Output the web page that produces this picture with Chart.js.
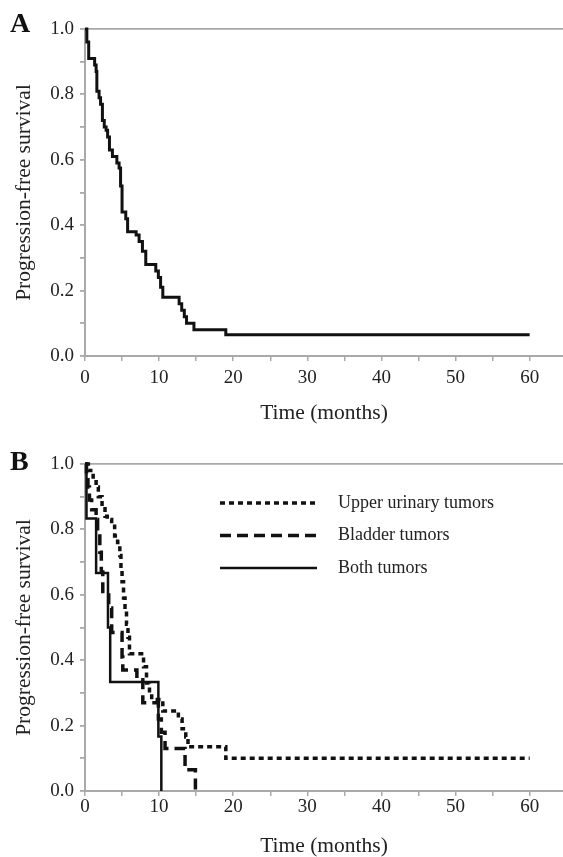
<!DOCTYPE html>
<html><head><meta charset="utf-8">
<script src="https://cdn.jsdelivr.net/npm/chart.js@4/dist/chart.umd.min.js"></script>
<style>
html,body{margin:0;padding:0;background:#fff;width:563px;height:857px;overflow:hidden}
.wrap{position:absolute;left:0;width:563px}
.lab{position:absolute;font-family:"Liberation Serif","Times New Roman",serif;font-weight:bold;font-size:28px;line-height:28px;color:#111}
</style></head><body>
<div class="wrap" style="top:0;height:430px"><canvas id="a" width="563" height="430"></canvas></div>
<div class="wrap" style="top:430px;height:427px"><canvas id="b" width="563" height="427"></canvas></div>
<div class="lab" style="left:10px;top:9px">A</div>
<div class="lab" style="left:10px;top:447px">B</div>
<script>
// ---- Data ----
const timeA = [0, 0.25, 0.5, 1.3, 1.5, 1.6, 1.9, 2.1, 2.35, 2.6, 2.85, 3.05, 3.3, 3.7, 4.3, 4.6, 4.8, 5.0, 5.5, 5.75, 6.9, 7.3, 7.75, 8.2, 9.55, 9.9, 10.2, 10.5, 12.7, 13.05, 13.4, 13.7, 14.7, 19.0, 60];
const survA = [1.0, 0.96, 0.91, 0.89, 0.87, 0.81, 0.79, 0.77, 0.72, 0.70, 0.69, 0.67, 0.63, 0.61, 0.59, 0.575, 0.52, 0.44, 0.42, 0.38, 0.37, 0.35, 0.32, 0.28, 0.26, 0.24, 0.21, 0.18, 0.16, 0.14, 0.12, 0.10, 0.08, 0.065, 0.065];

const timeUpper = [0, 0.45, 1.1, 1.5, 1.8, 2.3, 2.7, 3.0, 3.6, 4.0, 4.4, 4.7, 4.85, 5.0, 5.2, 5.4, 5.6, 5.8, 6.0, 7.9, 8.3, 8.7, 9.0, 10.5, 12.6, 13.1, 13.6, 13.9, 19.0, 60];
const survUpper = [1.0, 0.98, 0.96, 0.93, 0.90, 0.87, 0.84, 0.83, 0.81, 0.78, 0.76, 0.72, 0.68, 0.64, 0.59, 0.55, 0.51, 0.47, 0.42, 0.38, 0.33, 0.30, 0.28, 0.245, 0.22, 0.19, 0.165, 0.135, 0.10, 0.10];

const timeBladder = [0, 0.2, 0.4, 0.6, 0.9, 1.5, 1.7, 2.0, 2.2, 2.4, 3.2, 3.6, 5.0, 5.1, 7.0, 7.8, 9.9, 10.3, 10.8, 13.5, 14.9];
const survBladder = [1.0, 0.96, 0.93, 0.89, 0.86, 0.83, 0.79, 0.73, 0.67, 0.61, 0.56, 0.485, 0.41, 0.37, 0.34, 0.27, 0.22, 0.18, 0.13, 0.065, 0];

const timeBoth = [0, 0.2, 1.5, 3.1, 3.4, 9.9, 10.3];
const survBoth = [1.0, 0.833, 0.667, 0.5, 0.333, 0.167, 0];

const seriesLabels = ['Upper urinary tumors', 'Bladder tumors', 'Both tumors'];
const xTickStep = 5, xLabelStep = 10;
const yTickStep = 0.1;

// ---- Styling ----
const SERIF = '"Liberation Serif","Times New Roman",serif';
const GRAY = '#a9a9a9';
const INK = '#111';
const TXT = '#222';

function pts(t, s){ return t.map((v,i)=>({x:v, y:s[i]})); }

function makeOptions(cfg){
  return {
    responsive:false, animation:false,
    layout:{padding:{top:cfg.top, right:0, left:0, bottom:0}},
    plugins:{legend:{display:false}, tooltip:{enabled:false}, kmLegend: cfg.legend || false},
    scales:{
      x:{type:'linear', min:0, max:64.5,
        afterBuildTicks: ax => { ax.ticks = ax.ticks.filter(t => Math.abs(t.value % xTickStep) < 1e-9); },
        afterFit: s => { s.height = cfg.xh; },
        border:{display:true, color:GRAY, width:2},
        grid:{display:true, drawOnChartArea:false, drawTicks:true, tickLength:5, color:GRAY, lineWidth:1.5},
        ticks:{stepSize:xTickStep, includeBounds:false, autoSkip:false, maxRotation:0, padding:cfg.xpad, color:TXT,
          font:{family:SERIF, size:19},
          callback: v => (Math.abs(v % xLabelStep) < 1e-9 ? String(v) : '')},
        title:{display:true, text:'Time (months)', color:TXT, font:{family:SERIF, size:21.5, lineHeight:1}, padding:{top:0, bottom:cfg.tpad}}
      },
      y:{type:'linear', min:0, max:1,
        afterFit: s => { s.width = 85; },
        border:{display:true, color:GRAY, width:2},
        grid:{display:true, drawOnChartArea:true, drawTicks:true, tickLength:5,
          color: c => (c.tick && Math.abs(c.tick.value - 1) < 1e-9 ? GRAY : 'rgba(0,0,0,0)'),
          tickColor: GRAY, lineWidth:1.8},
        ticks:{stepSize:yTickStep, autoSkip:false, padding:6, color:TXT, font:{family:SERIF, size:19},
          callback: v => (Math.round(v*10) % 2 === 0 ? Number(v).toFixed(1) : '')},
        title:{display:true, text:'Progression-free survival', color:TXT, font:{family:SERIF, size:21.5, lineHeight:1}, padding:{top:14, bottom:0}}
      }
    }
  };
}

const kmLegend = {
  id:'kmLegend',
  afterDatasetsDraw(chart, args, o){
    if(!o || !o.show) return;
    const ctx = chart.ctx;
    chart.data.datasets.forEach((ds,i)=>{
      const y = o.y0 + i*o.gap;
      ctx.save();
      ctx.strokeStyle = ds.borderColor; ctx.lineWidth = ds.borderWidth;
      ctx.setLineDash(ds.borderDash || []);
      ctx.beginPath(); ctx.moveTo(o.x0, y); ctx.lineTo(o.x1, y); ctx.stroke();
      ctx.setLineDash([]);
      ctx.fillStyle = TXT; ctx.font = '18px ' + SERIF; ctx.textBaseline = 'middle';
      ctx.fillText(ds.label, o.tx, y);
      ctx.restore();
    });
  }
};
Chart.register(kmLegend);

const lineBase = {stepped:true, pointRadius:0, fill:false, borderJoinStyle:'miter', borderCapStyle:'butt', clip:false, tension:0};

new Chart(document.getElementById('a'), {
  type:'line',
  data:{datasets:[Object.assign({}, lineBase, {label:'All', data:pts(timeA, survA), borderColor:INK, borderWidth:3})]},
  options: makeOptions({top:29, xh:74, xpad:6, tpad:6})
});

new Chart(document.getElementById('b'), {
  type:'line',
  data:{datasets:[
    Object.assign({}, lineBase, {label:seriesLabels[0], data:pts(timeUpper, survUpper), borderColor:INK, borderWidth:3.5, borderDash:[5,4]}),
    Object.assign({}, lineBase, {label:seriesLabels[1], data:pts(timeBladder, survBladder), borderColor:INK, borderWidth:3.5, borderDash:[11,6]}),
    Object.assign({}, lineBase, {label:seriesLabels[2], data:pts(timeBoth, survBoth), borderColor:INK, borderWidth:2.5})
  ]},
  options: makeOptions({top:34, xh:66, xpad:0, tpad:0, legend:{show:true, x0:220, x1:317, tx:338, y0:73, gap:32.5}})
});
</script>
</body></html>
